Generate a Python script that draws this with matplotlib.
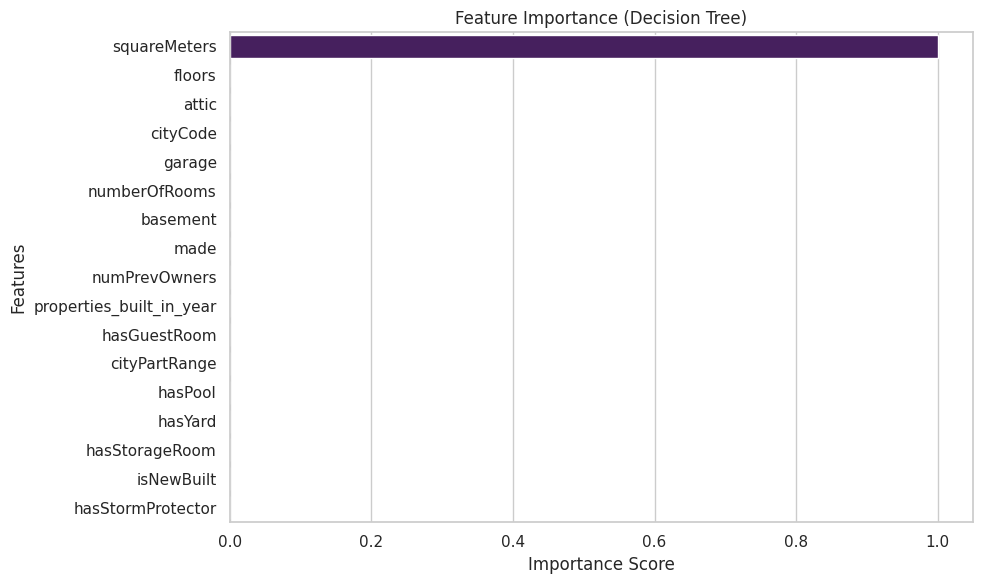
import matplotlib
matplotlib.use('Agg')
import matplotlib.pyplot as plt
import seaborn as sns
import pandas as pd

features = ['squareMeters', 'floors', 'attic', 'cityCode', 'garage', 'numberOfRooms',
            'basement', 'made', 'numPrevOwners', 'properties_built_in_year',
            'hasGuestRoom', 'cityPartRange', 'hasPool', 'hasYard', 'hasStorageRoom',
            'isNewBuilt', 'hasStormProtector']
importance = [0.99999, 2.5e-6, 2.0e-6, 1.8e-6, 1.5e-6, 1.3e-6, 1.1e-6, 1.0e-6, 8e-7,
              7e-7, 5e-7, 4e-7, 3e-7, 2e-7, 1e-7, 5e-8, 0.0]

df = pd.DataFrame({'Feature': features, 'Importance': importance})

sns.set_theme(style='whitegrid')
fig, ax = plt.subplots(figsize=(9.84, 5.84), dpi=100)
sns.barplot(data=df, x='Importance', y='Feature', hue='Feature', palette='viridis',
            legend=False, ax=ax)
ax.set_title('Feature Importance (Decision Tree)')
ax.set_xlabel('Importance Score')
ax.set_ylabel('Features')
fig.subplots_adjust(left=0.2337, right=0.9888, top=0.9452, bottom=0.1062)
plt.savefig('out.png', dpi=100)
